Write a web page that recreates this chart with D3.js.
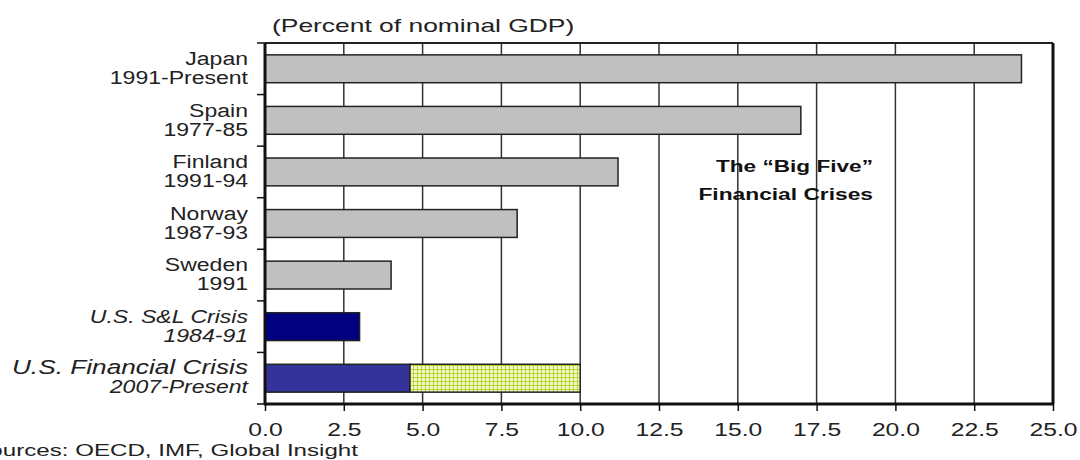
<!DOCTYPE html>
<html>
<head>
<meta charset="utf-8">
<script src="https://cdn.jsdelivr.net/npm/d3@7"></script>
<style>
  body { margin: 0; background: #fff; }
  svg { display: block; font-family: "Liberation Sans", Arial, sans-serif; }
</style>
</head>
<body>
<svg class="canvasClass" width="1080" height="460"></svg>
<script>
// crisis names, periods and cost (percent of nominal GDP)
const crises = ["Japan", "Spain", "Finland", "Norway", "Sweden", "U.S. S&L Crisis", "U.S. Financial Crisis"];
const periods = ["1991-Present", "1977-85", "1991-94", "1987-93", "1991", "1984-91", "2007-Present"];
const costSoFar = [24.0, 17.0, 11.2, 8.0, 4.0, 3.0, 4.6];
const costProjected = [0, 0, 0, 0, 0, 0, 5.4];
const barColors = ["#c0c0c0", "#c0c0c0", "#c0c0c0", "#c0c0c0", "#c0c0c0", "#000080", "#333399"];
const xTicks = [0, 2.5, 5, 7.5, 10, 12.5, 15, 17.5, 20, 22.5, 25];

let svg = d3.select(".canvasClass");
let plotLeft = 265, plotRight = 1053, plotTop = 43, plotBottom = 404;

let x = d3.scaleLinear().domain([0, 25]).range([plotLeft, plotRight]);
let y = d3.scaleBand().domain(crises).range([plotTop, plotBottom]).paddingInner(0.46).paddingOuter(0.23);
let step = y.step();

// the source picture is stretched sideways, so text gets a horizontal scale around its anchor
function stretch(sel, sx, ax) {
    sel.attr("transform", `translate(${ax},0) scale(${sx},1) translate(${-ax},0)`);
}

// hatch pattern for the projected part
let defs = svg.append("defs");
let pat = defs.append("pattern")
    .attr("id", "hatch")
    .attr("patternUnits", "userSpaceOnUse")
    .attr("width", 4).attr("height", 4);
pat.append("rect").attr("width", 4).attr("height", 4).attr("fill", "#f4f9d8");
pat.append("path").attr("d", "M1.5,0V4M0,1.5H4")
    .attr("stroke", "#b9d630").attr("stroke-width", 1.2);

// vertical gridlines
svg.append("g")
    .selectAll("line")
    .data(xTicks.slice(1, -1))
    .enter()
    .append("line")
    .attr("x1", d => x(d)).attr("x2", d => x(d))
    .attr("y1", plotTop).attr("y2", plotBottom)
    .attr("stroke", "#333").attr("stroke-width", 1.5);

// bars
svg.append("g")
    .selectAll("rect")
    .data(crises)
    .enter()
    .append("rect")
    .attr("x", x(0))
    .attr("y", d => y(d))
    .attr("width", (d, i) => x(costSoFar[i]) - x(0))
    .attr("height", y.bandwidth())
    .attr("fill", (d, i) => barColors[i])
    .attr("stroke", "#222").attr("stroke-width", 1.5);

svg.append("g")
    .selectAll("rect")
    .data(crises.filter((d, i) => costProjected[i] > 0))
    .enter()
    .append("rect")
    .attr("x", d => x(costSoFar[crises.indexOf(d)]))
    .attr("y", d => y(d))
    .attr("width", d => {
        let i = crises.indexOf(d);
        return x(costSoFar[i] + costProjected[i]) - x(costSoFar[i]);
    })
    .attr("height", y.bandwidth())
    .attr("fill", "url(#hatch)")
    .attr("stroke", "#222").attr("stroke-width", 1.5);

// frame
svg.append("line").attr("x1", plotLeft).attr("x2", plotRight).attr("y1", plotTop).attr("y2", plotTop)
    .attr("stroke", "#222").attr("stroke-width", 2);
svg.append("line").attr("x1", plotRight).attr("x2", plotRight).attr("y1", plotTop).attr("y2", plotBottom)
    .attr("stroke", "#111").attr("stroke-width", 3);

// x axis
let xAxis = svg.append("g")
    .attr("transform", `translate(0,${plotBottom})`)
    .call(d3.axisBottom(x).tickValues(xTicks).tickFormat(d3.format(".1f")).tickSize(7).tickPadding(12));
xAxis.select(".domain").attr("stroke", "#111").attr("stroke-width", 3).attr("d", `M${plotLeft - 1},0H${plotRight + 1}`);
xAxis.selectAll(".tick line").attr("stroke", "#111").attr("stroke-width", 1.5);
xAxis.selectAll(".tick text")
    .attr("font-size", 19).attr("fill", "#222")
    .attr("font-family", "Liberation Sans, Arial, sans-serif")
    .call(stretch, 1.3, 0);

// left axis with ticks at row boundaries
svg.append("line").attr("x1", plotLeft).attr("x2", plotLeft).attr("y1", plotTop).attr("y2", plotBottom + 1)
    .attr("stroke", "#111").attr("stroke-width", 3);
svg.append("g")
    .selectAll("line")
    .data(d3.range(crises.length + 1))
    .enter()
    .append("line")
    .attr("x1", plotLeft - 8).attr("x2", plotLeft)
    .attr("y1", i => plotTop + i * step).attr("y2", i => plotTop + i * step)
    .attr("stroke", "#111").attr("stroke-width", 1.5);

// category labels
let labelX = 248;
let labels = svg.append("g")
    .call(stretch, 1.28, labelX)
    .selectAll("text")
    .data(crises)
    .enter()
    .append("text")
    .attr("text-anchor", "end")
    .attr("fill", "#222")
    .style("font-style", (d, i) => i >= 5 ? "italic" : "normal");
labels.append("tspan")
    .attr("x", labelX)
    .attr("y", d => y(d) - y.step() * y.paddingInner() / 2 + 22)
    .attr("font-size", (d, i) => i === 6 ? 20.5 : 18)
    .text(d => d);
labels.append("tspan")
    .attr("x", labelX)
    .attr("y", d => y(d) - y.step() * y.paddingInner() / 2 + 41)
    .attr("font-size", 18)
    .text((d, i) => periods[i]);

// titles and notes
svg.append("text").attr("x", 272).attr("y", 32)
    .attr("font-size", 19).attr("fill", "#222")
    .text("(Percent of nominal GDP)")
    .call(stretch, 1.39, 272);

svg.append("text").attr("x", 873).attr("y", 172)
    .attr("text-anchor", "end").attr("font-size", 17).attr("font-weight", "bold").attr("fill", "#111")
    .text("The \u201cBig Five\u201d")
    .call(stretch, 1.33, 873);
svg.append("text").attr("x", 873).attr("y", 200)
    .attr("text-anchor", "end").attr("font-size", 17).attr("font-weight", "bold").attr("fill", "#111")
    .text("Financial Crises")
    .call(stretch, 1.34, 873);

svg.append("text").attr("x", 358).attr("y", 456)
    .attr("text-anchor", "end").attr("font-size", 17).attr("fill", "#222")
    .text("Sources: OECD, IMF, Global Insight")
    .call(stretch, 1.42, 358);
</script>
</body>
</html>
